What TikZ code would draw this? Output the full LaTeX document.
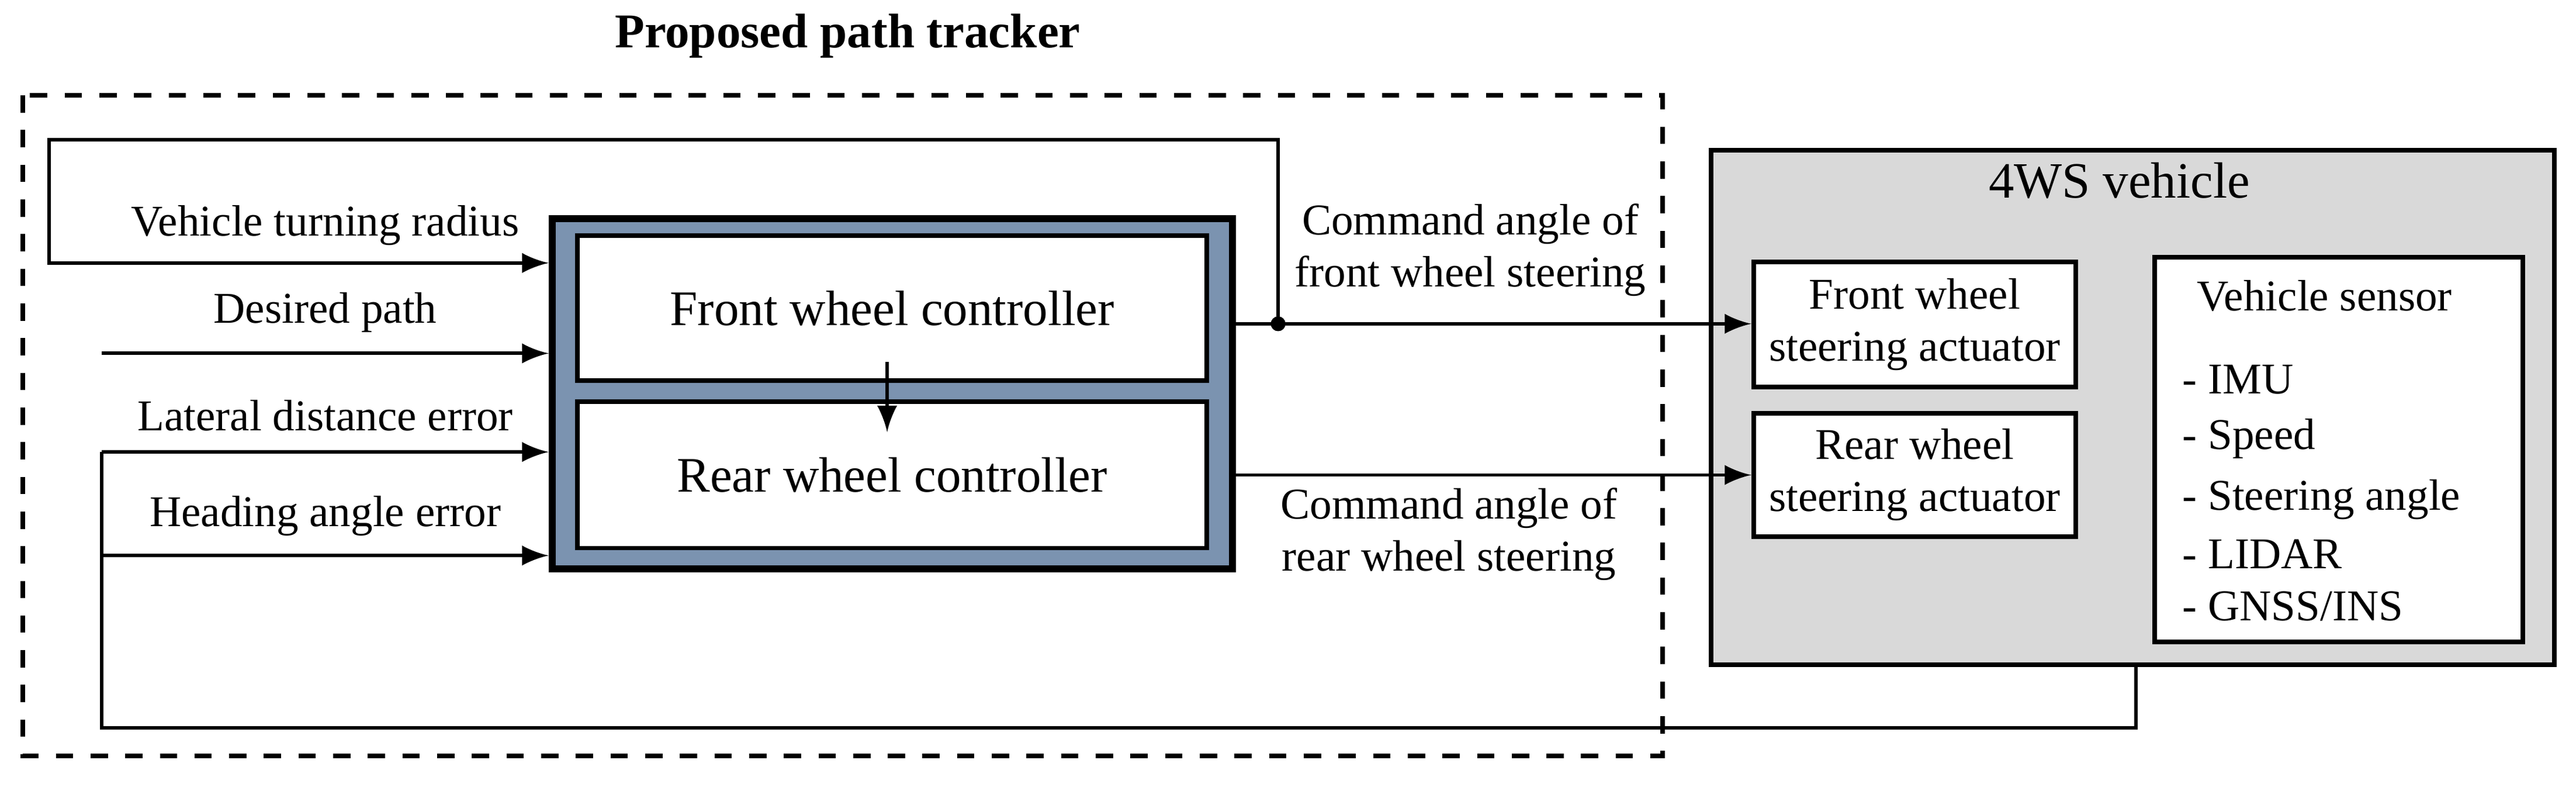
\documentclass[tikz,border=0pt]{standalone}
\usepackage{fontspec}
\setmainfont{Liberation Serif}
\usetikzlibrary{positioning}
\definecolor{ctrlblue}{HTML}{7B93B0}
\definecolor{vehgray}{HTML}{D9D9D9}
\begin{document}
\begin{tikzpicture}[x=0.01cm, y=-0.01cm,
  font=\fontsize{7.6}{9}\selectfont,
  box/.style={draw=black, fill=white, thick, inner sep=0pt},
  lbl/.style={align=center, inner sep=0pt},
  sig/.style={-latex, semithick},
  line/.style={-, semithick}
]
\useasboundingbox (0,0) rectangle (1568,481);

\node[font=\fontsize{8.4}{10}\selectfont\bfseries] at (516,22) (title) {Proposed path tracker};
\draw[thick, dashed] (14,58) rectangle (1012,460);

% path tracker
\node[draw=black, fill=ctrlblue, very thick, minimum width=4.14cm, minimum height=2.13cm, anchor=north west, inner sep=0pt] at (334,131) (tracker) {};
\node[box, minimum width=3.83cm, minimum height=0.88cm, anchor=north west, font=\fontsize{8.6}{10}\selectfont] at (350,142) (front) {Front wheel controller};
\node[box, minimum width=3.83cm, minimum height=0.89cm, anchor=north west, font=\fontsize{8.6}{10}\selectfont] at (350,243) (rear) {Rear wheel controller};
\coordinate (fa) at (540,220);
\coordinate (ra) at (540,263);
\draw[sig] (fa) -- (ra);

% vehicle
\node[draw=black, fill=vehgray, thick, minimum width=5.13cm, minimum height=3.13cm, anchor=north west, inner sep=0pt] at (1040,90) (vehicle) {};
\node[font=\fontsize{8.8}{10}\selectfont] at (1290,110) (vtitle) {4WS vehicle};
\node[box, minimum width=1.96cm, minimum height=0.76cm, anchor=north west, lbl] at (1066,158) (fact) {Front wheel\\steering actuator};
\node[box, minimum width=1.96cm, minimum height=0.75cm, anchor=north west, lbl] at (1066,250) (ract) {Rear wheel\\steering actuator};
\node[box, minimum width=2.24cm, minimum height=2.34cm, anchor=north west] at (1310,155) (sensor) {};
\node at (1415,180) (stitle) {Vehicle sensor};
\foreach \t/\ypos in {IMU/231, Speed/267, Steering angle/304, LIDAR/337, {GNSS/INS}/369}
  \node[anchor=west] at (1316,\ypos) {- \t};

% inputs
\node at (198,137) (lturn) {Vehicle turning radius};
\node at (198,190) (lpath) {Desired path};
\node at (198,253) (llat) {Lateral distance error};
\node at (198,314) (lhead) {Heading angle error};
\coordinate (pin) at (62,215);
\coordinate (lin) at (62,275);
\coordinate (hin) at (62,338);
\draw[sig] (pin) -- (pin -| tracker.west);
\draw[sig] (lin) -- (lin -| tracker.west);
\draw[sig] (hin) -- (hin -| tracker.west);

% outputs
\coordinate (fout) at (748,197);
\coordinate (rout) at (748,289);
\coordinate (split) at (778,197);
\draw[sig] (fout) -- (fout -| fact.west);
\draw[sig] (rout) -- (rout -| ract.west);
\fill (split) circle (4.5);
\node[lbl] at (895,152) (lfcmd) {Command angle of\\front wheel steering};
\node[lbl] at (882,325) (lrcmd) {Command angle of\\rear wheel steering};

% feedback
\coordinate (ftop) at (778,85);
\coordinate (fleft) at (30,85);
\coordinate (fturn) at (30,160);
\draw[sig] (split) -- (ftop) -- (fleft) -- (fturn) -- (fturn -| tracker.west);
\coordinate (bleft) at (62,443);
\coordinate (bright) at (1300,443);
\draw[line] (lin) -- (bleft) -- (bright) -- (bright |- vehicle.south);
\end{tikzpicture}
\end{document}
